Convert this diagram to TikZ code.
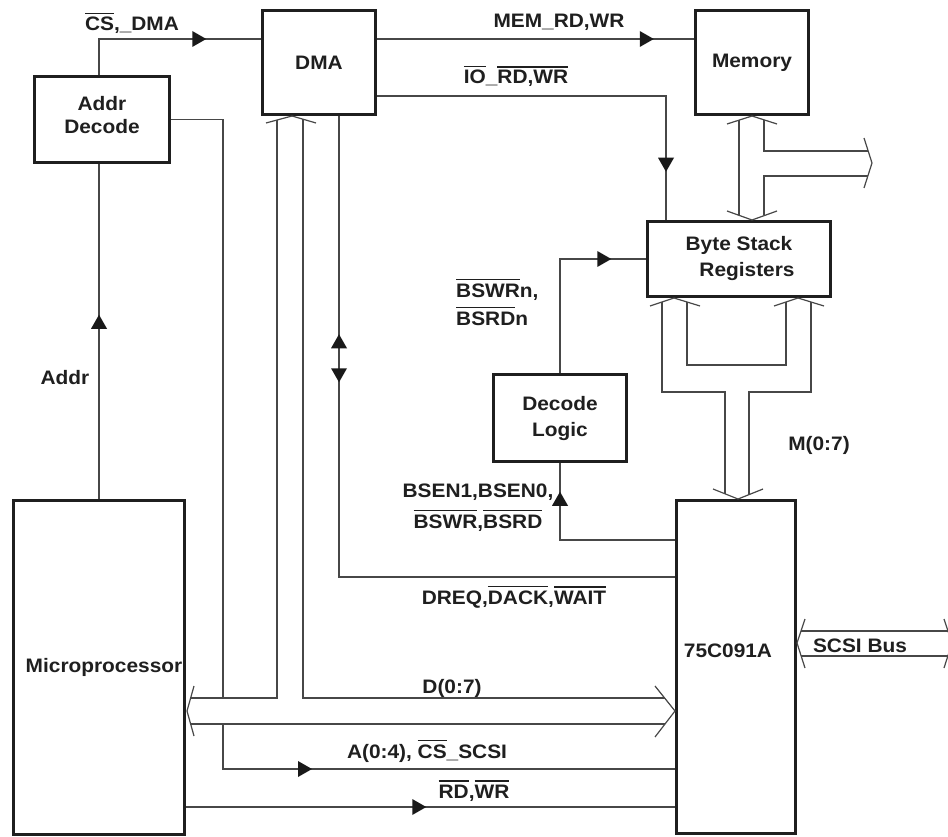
\documentclass[tikz,border=0pt]{standalone}
\usepackage{fontspec}
\setmainfont{Liberation Sans}[FakeStretch=1.07]
\usetikzlibrary{decorations.markings}
\newcommand\ovl[1]{\setbox0\hbox{#1}\rlap{\raise\dimexpr\ht0+3pt\relax\hbox{\vrule width\wd0 height1.8pt depth0pt}}\box0}
\begin{document}
\begin{tikzpicture}[x=1pt,y=-1pt,line join=miter,
  every node/.style={font=\fontsize{19.5}{26}\selectfont\bfseries,text=black!88},
  box/.style={draw=black!88,line width=3.5pt,inner sep=0pt,align=center},
  ln/.style={draw=black!72,line width=1.2pt},
  txt/.style={inner sep=0pt},
  arr/.style={postaction={decorate,decoration={markings,mark=at position #1 with {\fill[black!90] (0pt,0pt)--(-14pt,8pt)--(-14pt,-8pt)--cycle;}}}},
  arrb/.style={postaction={decorate,decoration={markings,mark=at position #1 with {\fill[black!90] (0pt,0pt)--(14pt,8pt)--(14pt,-8pt)--cycle;}}}}]
\useasboundingbox[fill=white] (0,0) rectangle (948,837);

% boxes
\node[box,minimum width=135pt,minimum height=86pt,font=\fontsize{19.5}{23}\selectfont\bfseries] (addr) at (102,119.5) {Addr\\Decode\rule[-10pt]{0pt}{10pt}};
\node[box,minimum width=113pt,minimum height=104pt] (dma) at (319,62.5) {DMA};
\node[box,minimum width=113pt,minimum height=104pt] (mem) at (752,62.5) {Memory};
\node[box,minimum width=183pt,minimum height=75pt] (bsr) at (739,259) {Byte Stack\\\hspace*{16pt}Registers};
\node[box,minimum width=133pt,minimum height=87pt] (dec) at (560,418) {Decode\\Logic};
\node[box,minimum width=171pt,minimum height=334pt] (mp) at (99,667.5) {\hspace*{10pt}Microprocessor};
\node[box,minimum width=119pt,minimum height=333pt] (chip) at (736,667) {\raisebox{32pt}{75C091A\hspace*{16pt}}};

% helper coordinates
\coordinate (xa) at (99,0);
\coordinate (yc) at (0,39);
\coordinate (yio) at (0,96);
\coordinate (xio) at (666,0);
\coordinate (xdreq) at (339,0);
\coordinate (ydreq) at (0,577);
\coordinate (xdec) at (560,0);
\coordinate (ybs) at (0,259);
\coordinate (ybsen) at (0,540);
\coordinate (ya) at (0,769);
\coordinate (yrw) at (0,807);
\coordinate (xad) at (223,0);
\coordinate (ybt) at (0,698);
\coordinate (ybb) at (0,724);

% single-line connectors
\draw[ln,arr=143pt] (addr.north -| xa) |- (dma.west |- yc);
\draw[ln,arr=-40pt] (dma.east |- yc) -- (mem.west |- yc);
\draw[ln,arr=-48pt] (dma.east |- yio) -| (bsr.north -| xio);
\draw[ln,arr=184pt] (mp.north -| xa) -- (addr.south -| xa);
\draw[ln] (addr.east) -| (xad |- ybt);
\draw[ln,arr=134pt] (xad |- ybb) |- (chip.west |- ya);
\draw[ln,arr=266pt,arrb=218pt] (dma.south -| xdreq) |- (chip.west |- ydreq);
\draw[ln,arr=165pt] (dec.north -| xdec) |- (bsr.west |- ybs);
\draw[ln,arr=163pt] (chip.west |- ybsen) -| (dec.south -| xdec);
\draw[ln,arr=240pt] (mp.east |- yrw) -- (chip.west |- yrw);

% data bus D(0:7)
\draw[ln] (266,123) -- (292,116) -- (316,123);
\draw[ln] (277,120) -- (277,698) -- (190.6,698);
\draw[ln] (303,119.2) -- (303,698) -- (664.6,698);
\draw[ln] (190.6,724) -- (665,724);
\draw[ln] (194,686) -- (187,711) -- (194,736);
\draw[ln] (655,686) -- (675,711) -- (655,737);

% memory bus
\draw[ln] (727,124) -- (752,116) -- (777,124);
\draw[ln] (727,211) -- (752,220) -- (777,211);
\draw[ln] (739,120) -- (739,215.3);
\draw[ln] (764,120) -- (764,151) -- (868.2,151);
\draw[ln] (764,215.3) -- (764,176) -- (867.8,176);
\draw[ln] (864,138) -- (872,163) -- (864,188);

% M(0:7) bus
\draw[ln] (650,306) -- (674,298) -- (700,306);
\draw[ln] (774,306) -- (798,298) -- (824,306);
\draw[ln] (687,302) -- (687,365) -- (786,365) -- (786,302);
\draw[ln] (662,302) -- (662,392) -- (725,392) -- (725,494);
\draw[ln] (811,302) -- (811,392) -- (749,392) -- (749,494.6);
\draw[ln] (713,489) -- (738,499) -- (763,489);

% SCSI bus
\draw[ln] (805,619) -- (797,643) -- (805,668);
\draw[ln] (801,631) -- (948,631);
\draw[ln] (801,656) -- (948,656);
\draw[ln] (944,619) -- (952,643) -- (944,668);

% labels
\node[txt,anchor=base] (lcs) at (132,31) {\ovl{CS},\_DMA};
\node[txt,anchor=base] (lmem) at (559,28) {MEM\_RD,WR};
\node[txt,anchor=base] (lio) at (516,84) {\ovl{IO}\_\ovl{RD,WR}};
\node[txt,anchor=base west,align=left] (lbsw) at (456,325) {\ovl{BSWR}n,\\[2pt]\ovl{BSRD}n};
\node[txt,anchor=base] (laddr) at (65,384) {Addr};
\node[txt,anchor=base,align=center] (lbsen) at (478,528) {BSEN1,BSEN0,\\[5pt]\ovl{BSWR},\ovl{BSRD}};
\node[txt,anchor=base] (ldreq) at (514,604) {DREQ,\ovl{DACK},\ovl{WAIT}};
\node[txt,anchor=base] (ld) at (452,693) {D(0:7)};
\node[txt,anchor=base] (la) at (427,758) {A(0:4), \ovl{CS}\_SCSI};
\node[txt,anchor=base] (lrw) at (474,798) {\ovl{RD},\ovl{WR}};
\node[txt,anchor=base] (lm) at (819,450) {M(0:7)};
\node[txt,anchor=base] (lscsi) at (860,652) {SCSI Bus};
\end{tikzpicture}
\end{document}
